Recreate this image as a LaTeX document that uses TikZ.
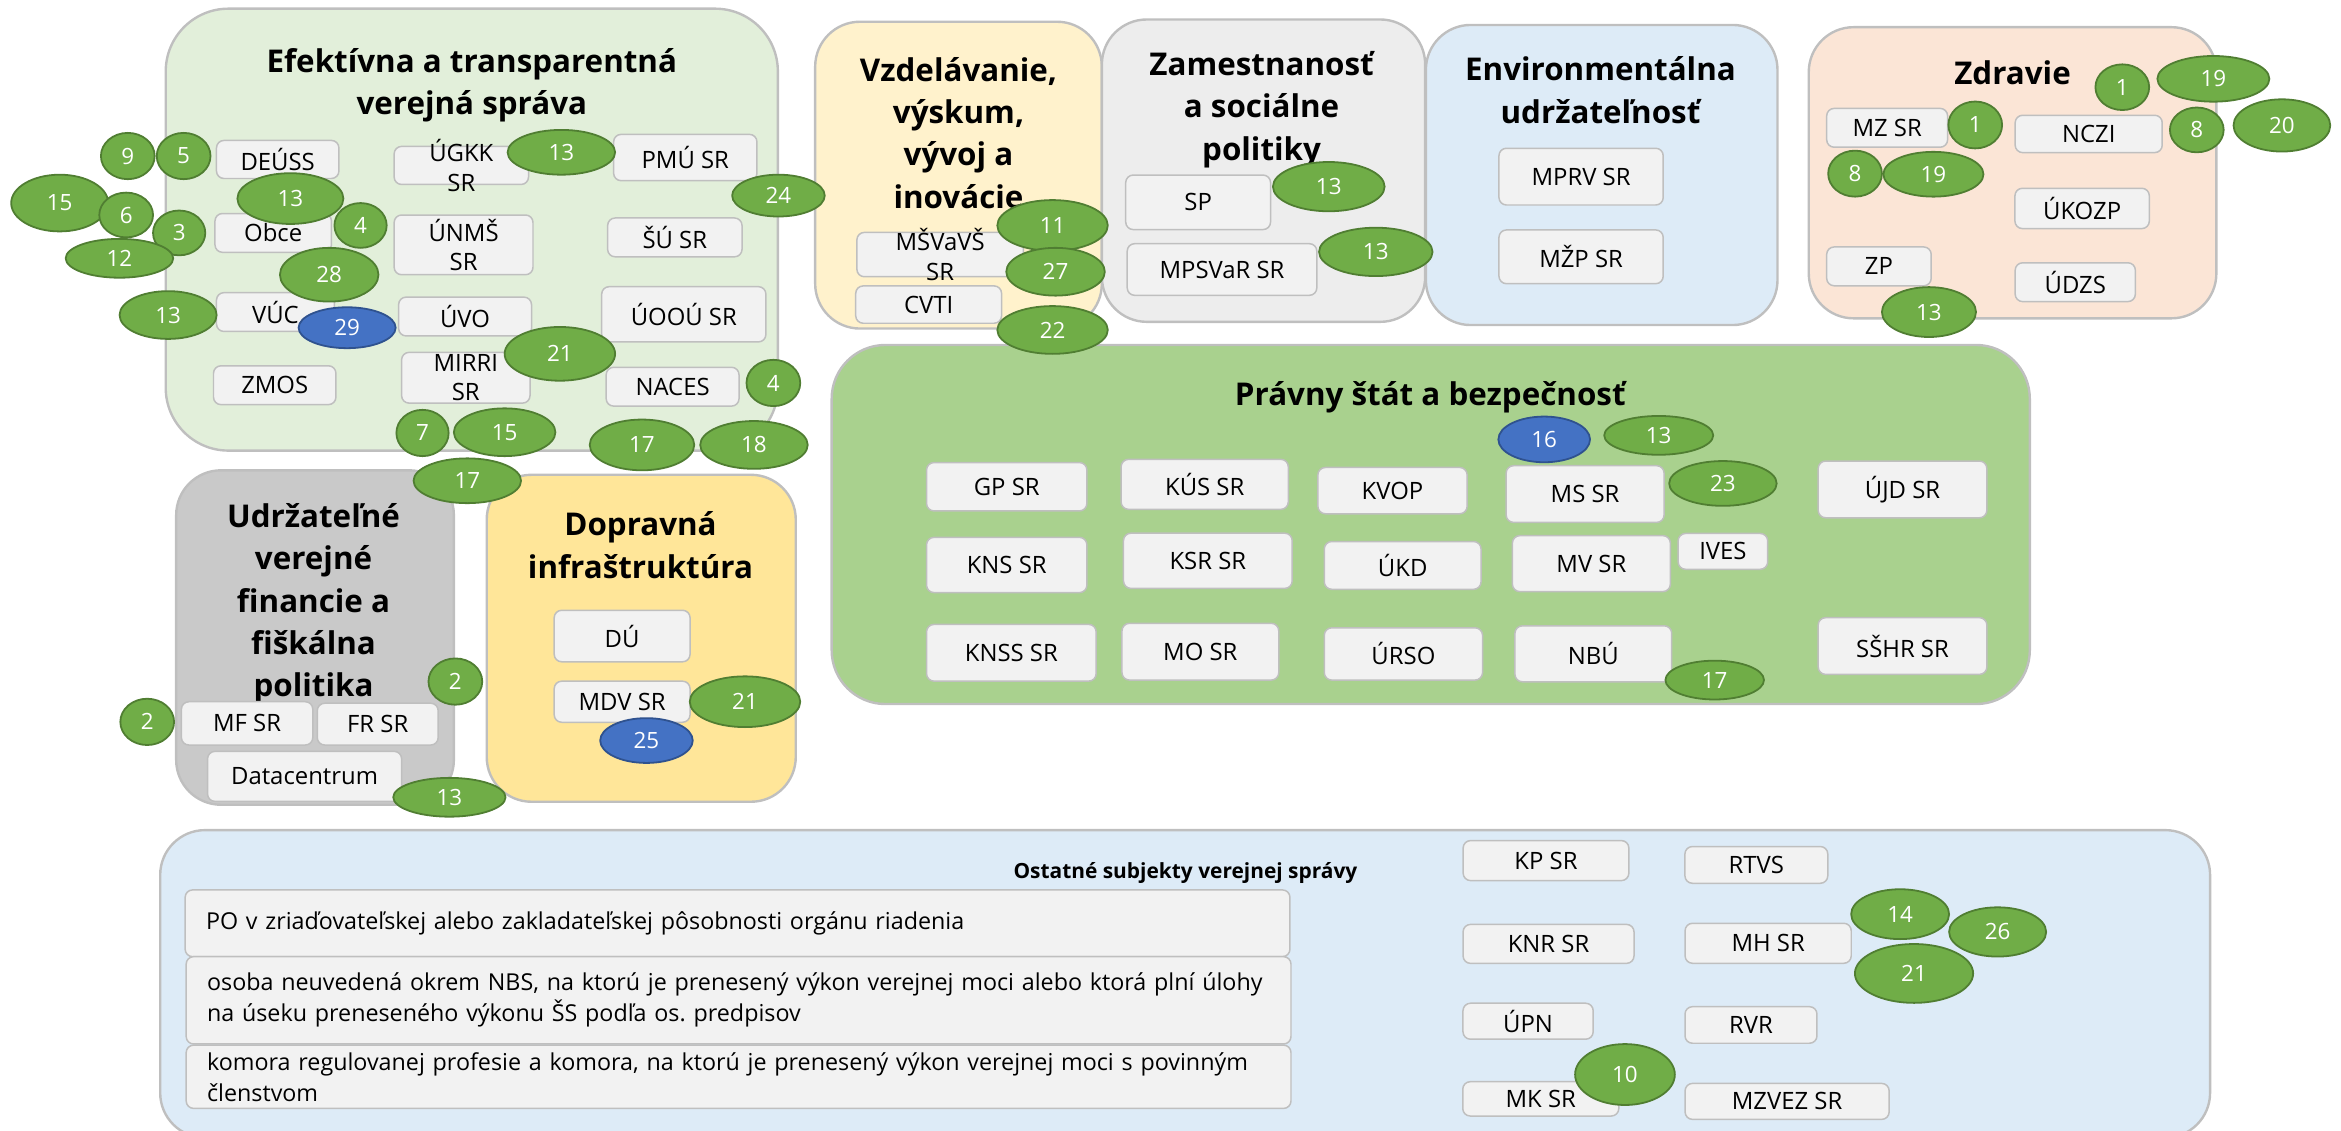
\documentclass[tikz,border=0pt]{standalone}
\usepackage{fontspec}
\setmainfont{Open Sans}
\usetikzlibrary{shapes.geometric}
\frenchspacing
\definecolor{efgreen}{HTML}{E2EFDA}
\definecolor{vzyellow}{HTML}{FFF2CC}
\definecolor{zagray}{HTML}{EDEDED}
\definecolor{enblue}{HTML}{DDEBF7}
\definecolor{zdpeach}{HTML}{FBE5D6}
\definecolor{udgray}{HTML}{C9C9C9}
\definecolor{doyellow}{HTML}{FFE699}
\definecolor{prgreen}{HTML}{A9D18E}
\definecolor{edgegray}{HTML}{BFBFBF}
\definecolor{boxfill}{HTML}{F2F2F2}
\definecolor{taggreen}{HTML}{70AD47}
\definecolor{tagedge}{HTML}{507E32}
\definecolor{tagblue}{HTML}{4472C4}
\definecolor{blueedge}{HTML}{2F528F}
\tikzstyle{area} = [draw=edgegray, line width=0.8pt, rounded corners=15pt, inner sep=0pt]
\tikzstyle{head} = [font={\fontsize{10.5}{14.2}\selectfont\bfseries}, align=center, inner sep=0pt]
\tikzstyle{office} = [draw=edgegray, fill=boxfill, line width=0.5pt, rounded corners=2.5pt, inner sep=0pt, font={\fontsize{8}{9.8}\selectfont}, align=center]
\tikzstyle{lbl} = [font={\fontsize{8}{9.8}\selectfont}, align=center, inner sep=0pt]
\tikzstyle{note} = [office, align=left, text width=356pt, inner xsep=7pt, font={\fontsize{7.8}{10.4}\selectfont}]
\tikzstyle{tag} = [ellipse, draw=tagedge, fill=taggreen, line width=0.6pt, inner sep=0pt, text=white, font={\fontsize{7.5}{9}\selectfont}]
\tikzstyle{bluetag} = [tag, draw=blueedge, fill=tagblue]
\tikzset{sz/.style 2 args={minimum width=#1*0.5pt, minimum height=#2*0.5pt},
  rad/.style 2 args={minimum width=#1*1pt, minimum height=#2*1pt}}

\begin{document}
\begin{tikzpicture}[x=0.5pt,y=-0.5pt]
    \useasboundingbox (0,0) rectangle (1568,757);
    % areas
    \node[area,fill=efgreen,sz={410}{296},rounded corners=21pt](efekt) at (316,153.8){};
    \node[area,fill=vzyellow,sz={192}{205.5}](vzdel) at (642,117.3){};
    \node[area,fill=zagray,sz={216.5}{202.5}](zamest) at (846.3,114.3){};
    \node[area,fill=enblue,sz={235.5}{201}](envir) at (1072.8,117.2){};
    \node[area,fill=zdpeach,sz={273}{195}](zdrav) at (1348,115.7){};
    \node[area,fill=udgray,sz={186}{224}](udrz) at (211,427){};
    \node[area,fill=doyellow,sz={207}{219}](doprav) at (429.5,427.5){};
    \node[area,fill=prgreen,sz={802.5}{240.5},rounded corners=18pt](pravny) at (958.3,351.3){};
    \node[area,fill=enblue,sz={1373}{206}](ostat) at (793.8,659){};
    \node[head](efektT) at (316,57){Efektívna a transparentná\\verejná správa};
    \node[head](vzdelT) at (642,89){Vzdelávanie,\\výskum,\\vývoj a\\inovácie};
    \node[head](zamestT) at (845,73.3){Zamestnanosť\\a sociálne\\politiky};
    \node[head](envirT) at (1072,60.3){Environmentálna\\udržateľnosť};
    \node[head](zdravT) at (1348,49){Zdravie};
    \node[head](udrzT) at (210,404.5){Udržateľné\\verejné\\financie a\\fiškálna\\politika};
    \node[head](dopravT) at (429,365){Dopravná\\infraštruktúra};
    \node[head](pravnyT) at (958,265.7){Právny štát a bezpečnosť};
    \node[head,font={\fontsize{7}{8.5}\selectfont\bfseries}](ostatT) at (794,585){Ostatné subjekty verejnej správy};
    % offices
    \node[office,sz={82}{25.5}](deuss) at (186,106.8){DEÚSS};
    \node[office,sz={90}{25.5},label={[lbl]center:ÚGKK\\SR}](ugkk) at (309,110.8){};
    \node[office,sz={96}{31}](pmu) at (459,105.5){PMÚ SR};
    \node[office,sz={78}{26}](obce) at (183,156){Obce};
    \node[office,sz={93}{40},label={[lbl]center:ÚNMŠ\\SR}](unms) at (310.5,164){};
    \node[office,sz={90}{26}](susr) at (452,159){ŠÚ SR};
    \node[office,sz={79}{26}](vuc) at (184.5,209){VÚC};
    \node[office,sz={89}{26}](uvo) at (311.5,212){ÚVO};
    \node[office,sz={110}{37}](uoou) at (458,210.5){ÚOOÚ SR};
    \node[office,sz={82}{26}](zmos) at (184,258){ZMOS};
    \node[office,sz={86}{34},label={[lbl]center:MIRRI\\SR}](mirri) at (312,253){};
    \node[office,sz={89}{26}](naces) at (450.5,259){NACES};
    \node[office,sz={111.5}{29.7},label={[lbl]center:MŠVaVŠ\\SR}](msvvs) at (629.7,170.5){};
    \node[office,sz={97.7}{25}](cvti) at (622,204){CVTI};
    \node[office,sz={97}{36.5}](sp) at (802.5,135.5){SP};
    \node[office,sz={127}{34.6}](mpsvr) at (818.5,180.5){MPSVaR SR};
    \node[office,sz={110}{38}](mprv) at (1059,118.3){MPRV SR};
    \node[office,sz={110}{36}](mzp) at (1059,172){MŽP SR};
    \node[office,sz={81}{26}](mzsr) at (1264,85.6){MZ SR};
    \node[office,sz={98.5}{25}](nczi) at (1399,89.7){NCZI};
    \node[office,sz={90}{27}](ukozp) at (1394.6,139.6){ÚKOZP};
    \node[office,sz={70}{26}](zp) at (1258.5,178.4){ZP};
    \node[office,sz={80.5}{26}](udzs) at (1390,189){ÚDZS};
    \node[office,sz={88}{29}](mfsr) at (165.5,484.5){MF SR};
    \node[office,sz={81}{28}](frsr) at (253,485){FR SR};
    \node[office,sz={130}{33.5}](datac) at (204,520){Datacentrum};
    \node[office,sz={91}{34.5}](du) at (416.7,426){DÚ};
    \node[office,sz={91}{27.5}](mdv) at (416.7,470){MDV SR};
    \node[office,sz={107.4}{32.4}](gpsr) at (674.3,326){GP SR};
    \node[office,sz={112}{33.5}](kussr) at (806.9,324.4){KÚS SR};
    \node[office,sz={100}{31}](kvop) at (932.7,328.6){KVOP};
    \node[office,sz={105.8}{38}](mssr) at (1061.7,330.9){MS SR};
    \node[office,sz={113}{38}](ujd) at (1274.3,327.8){ÚJD SR};
    \node[office,sz={107.4}{37}](kns) at (674.3,378.4){KNS SR};
    \node[office,sz={113}{37}](ksr) at (809,375.6){KSR SR};
    \node[office,sz={105}{32}](ukd) at (939.5,378.7){ÚKD};
    \node[office,sz={105.8}{37.5}](mvsr) at (1065.9,377.5){MV SR};
    \node[office,sz={60}{24}](ives) at (1154,369.3){IVES};
    \node[office,sz={113.6}{38}](knss) at (677.4,437.2){KNSS SR};
    \node[office,sz={105}{38}](mosr) at (804,436.5){MO SR};
    \node[office,sz={106}{35}](urso) at (940,438){ÚRSO};
    \node[office,sz={105}{37.5}](nbu) at (1067.2,437.9){NBÚ};
    \node[office,sz={113}{38}](sshr) at (1274.3,432.7){SŠHR SR};
    \node[note,minimum height=22.35pt](po) at (494,618.4){PO v zriaďovateľskej alebo zakladateľskej pôsobnosti orgánu riadenia};
    \node[note,minimum height=29.25pt](osoba) at (494.7,670){osoba neuvedená okrem NBS, na ktorú je prenesený výkon verejnej moci alebo ktorá plní úlohy\\na úseku preneseného výkonu ŠS podľa os. predpisov};
    \node[note,minimum height=21.2pt](komora) at (494.7,721.2){komora regulovanej profesie a komora, na ktorú je prenesený výkon verejnej moci s povinným\\členstvom};
    \node[office,sz={111}{26.8}](kpsr) at (1035.5,576.4){KP SR};
    \node[office,sz={95.7}{24.6}](rtvs) at (1176.4,579.3){RTVS};
    \node[office,sz={114.5}{26.1}](knr) at (1037.2,632.2){KNR SR};
    \node[office,sz={111.3}{26.8}](mhsr) at (1184.3,631.8){MH SR};
    \node[office,sz={87.2}{24.1}](upn) at (1023.5,684){ÚPN};
    \node[office,sz={88.4}{24.5}](rvr) at (1172.8,686.5){RVR};
    \node[office,sz={104.5}{23}](mksr) at (1032,736){MK SR};
    \node[office,sz={136.7}{24.1}](mzvez) at (1197,737.7){MZVEZ SR};
    % tags
    \node[tag,rad={18}{15.5}](e9) at (85.6,104.5){9};
    \node[tag,rad={18}{15.5}](e5) at (123,104.5){5};
    \node[tag,rad={32.5}{19}](e15a) at (40,136){15};
    \node[tag,rad={18}{15}](e6) at (84.5,144){6};
    \node[tag,rad={17.5}{15}](e3) at (120,156){3};
    \node[tag,rad={36}{13}](e12) at (80,173){12};
    \node[tag,rad={35.5}{17}](e13a) at (194.5,133){13};
    \node[tag,rad={17.5}{15}](e4a) at (241.5,151){4};
    \node[tag,rad={36}{15}](e13b) at (376,102){13};
    \node[tag,rad={31}{14}](e24) at (521.4,131){24};
    \node[tag,rad={33}{18}](e28) at (220.5,184){28};
    \node[tag,rad={32.5}{16}](e13c) at (112.6,211){13};
    \node[bluetag,rad={32.5}{13.7}](e29) at (232.5,219.5){29};
    \node[tag,rad={37}{18}](e21) at (375,237){21};
    \node[tag,rad={18}{15.5}](e4b) at (518,256.5){4};
    \node[tag,rad={17.5}{15.5}](e7) at (283,290){7};
    \node[tag,rad={34}{16}](e15b) at (338,289.5){15};
    \node[tag,rad={35}{17}](e17a) at (430,298){17};
    \node[tag,rad={36}{16}](e18) at (505,298){18};
    \node[tag,rad={36}{15}](e17b) at (313,322){17};
    \node[tag,rad={37}{17}](v11) at (705,151){11};
    \node[tag,rad={33}{16}](v27) at (707,182){27};
    \node[tag,rad={37}{16}](v22) at (705,221){22};
    \node[tag,rad={37.4}{16.5}](z13a) at (890,125){13};
    \node[tag,rad={38}{16.2}](z13b) at (921.5,168.7){13};
    \node[tag,rad={18}{15.7}](h1a) at (1323,83.7){1};
    \node[tag,rad={18}{15.4}](h8a) at (1242.5,116.3){8};
    \node[tag,rad={33.5}{15}](h19a) at (1295,116.7){19};
    \node[tag,rad={18}{15.3}](h1b) at (1421.5,58.4){1};
    \node[tag,rad={37.5}{15.3}](h19b) at (1482.5,52.8){19};
    \node[tag,rad={18}{15}](h8b) at (1471.4,87){8};
    \node[tag,rad={32.4}{17.5}](h20) at (1528.4,84){20};
    \node[tag,rad={31.5}{16.7}](h13) at (1292,209){13};
    \node[tag,rad={18}{15.5}](u2a) at (98.6,483.5){2};
    \node[tag,rad={18}{15.5}](u2b) at (305,456.5){2};
    \node[tag,rad={37.6}{13}](u13) at (301,534){13};
    \node[tag,rad={37}{17}](d21) at (499,470){21};
    \node[bluetag,rad={31}{15}](d25) at (433,496){25};
    \node[bluetag,rad={30.7}{15.3}](p16) at (1034.3,294.3){16};
    \node[tag,rad={36.5}{13}](p13) at (1111,291.6){13};
    \node[tag,rad={36}{15}](p23) at (1154,323.8){23};
    \node[tag,rad={33}{13}](p17) at (1148.5,455.5){17};
    \node[tag,rad={32.8}{16.7}](o14) at (1272.7,612.3){14};
    \node[tag,rad={32.5}{16.5}](o26) at (1338,624.2){26};
    \node[tag,rad={39.6}{19.7}](o21) at (1282,652){21};
    \node[tag,rad={33.4}{20.4}](o10) at (1088.4,719.7){10};
\end{tikzpicture}
\end{document}
